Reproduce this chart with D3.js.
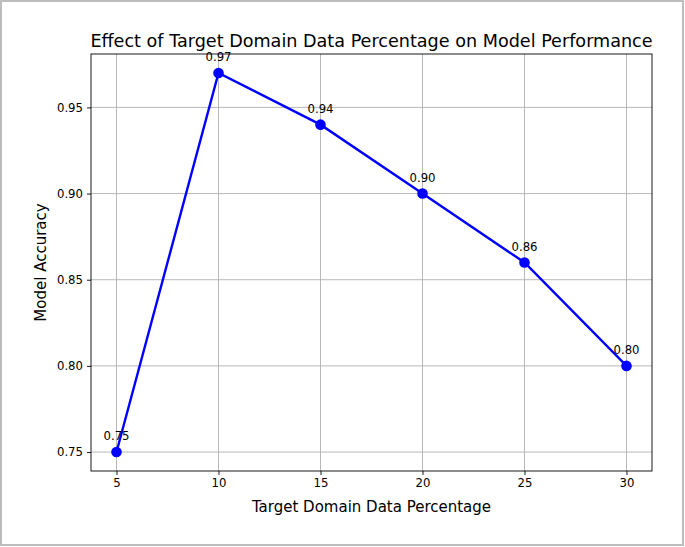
<!DOCTYPE html>
<html><head><meta charset="utf-8">
<script src="https://cdn.jsdelivr.net/npm/d3@7"></script>
<style>body{margin:0;background:#fff}svg{display:block}text{font-family:"DejaVu Sans",sans-serif;fill:#000}</style>
</head><body><svg id="c" width="685" height="547"></svg>
<script>
const percentages = [5, 10, 15, 20, 25, 30];
const accuracy = [0.75, 0.97, 0.94, 0.90, 0.86, 0.80];
const xTicks = [5, 10, 15, 20, 25, 30];
const yTicks = [0.75, 0.80, 0.85, 0.90, 0.95];
const title = "Effect of Target Domain Data Percentage on Model Performance";
const xLabel = "Target Domain Data Percentage";
const yLabel = "Model Accuracy";

const svg = d3.select("#c");
svg.append("rect").attr("x",1).attr("y",1).attr("width",682).attr("height",544)
  .attr("fill","#fff").attr("stroke","#bdbdbd").attr("stroke-width",2);

const L=91, R=652, T=54, B=471;
const x = d3.scaleLinear().domain([3.75, 31.25]).range([L, R]);
const y = d3.scaleLinear().domain([0.739, 0.981]).range([B, T]);

const g = svg.append("g");
// grid
g.selectAll(".gx").data(xTicks).enter().append("line")
  .attr("x1",d=>x(d)).attr("x2",d=>x(d)).attr("y1",T).attr("y2",B)
  .attr("stroke","#b0b0b0").attr("stroke-width",0.9);
g.selectAll(".gy").data(yTicks).enter().append("line")
  .attr("y1",d=>y(d)).attr("y2",d=>y(d)).attr("x1",L).attr("x2",R)
  .attr("stroke","#b0b0b0").attr("stroke-width",0.9);

// axes
const xa = svg.append("g").attr("transform",`translate(0,${B})`)
  .call(d3.axisBottom(x).tickValues(xTicks).tickFormat(d3.format("d")).tickSize(4).tickPadding(4));
const ya = svg.append("g").attr("transform",`translate(${L},0)`)
  .call(d3.axisLeft(y).tickValues(yTicks).tickFormat(d3.format(".2f")).tickSize(4).tickPadding(4));
[xa,ya].forEach(a=>{
  a.select(".domain").remove();
  a.selectAll("text").attr("font-size","11.7px").attr("font-family","DejaVu Sans").attr("fill","#000");
  a.selectAll("line").attr("stroke","#000").attr("stroke-width",0.9);
});
svg.append("rect").attr("x",L).attr("y",T).attr("width",R-L).attr("height",B-T)
  .attr("fill","none").attr("stroke","#000").attr("stroke-width",0.9);

// line
const pts = percentages.map((p,i)=>({p, a: accuracy[i]}));
svg.append("path").datum(pts)
  .attr("d", d3.line().x(d=>x(d.p)).y(d=>y(d.a)))
  .attr("fill","none").attr("stroke","#0000ff").attr("stroke-width",2.4);
svg.selectAll(".pt").data(pts).enter().append("circle")
  .attr("cx",d=>x(d.p)).attr("cy",d=>y(d.a)).attr("r",5.3).attr("fill","#0000ff");
svg.selectAll(".lab").data(pts).enter().append("text")
  .attr("x",d=>x(d.p)).attr("y",d=>y(d.a)-12).attr("text-anchor","middle")
  .attr("font-size","11.7px").text(d=>d.a.toFixed(2));

// titles
svg.append("text").attr("x",(L+R)/2).attr("y",T-7).attr("text-anchor","middle")
  .attr("font-size","17.6px").text(title);
svg.append("text").attr("x",(L+R)/2).attr("y",512).attr("text-anchor","middle")
  .attr("font-size","15px").text(xLabel);
svg.append("text").attr("transform",`translate(46,${(T+B)/2}) rotate(-90)`).attr("text-anchor","middle")
  .attr("font-size","15px").text(yLabel);
</script></body></html>
